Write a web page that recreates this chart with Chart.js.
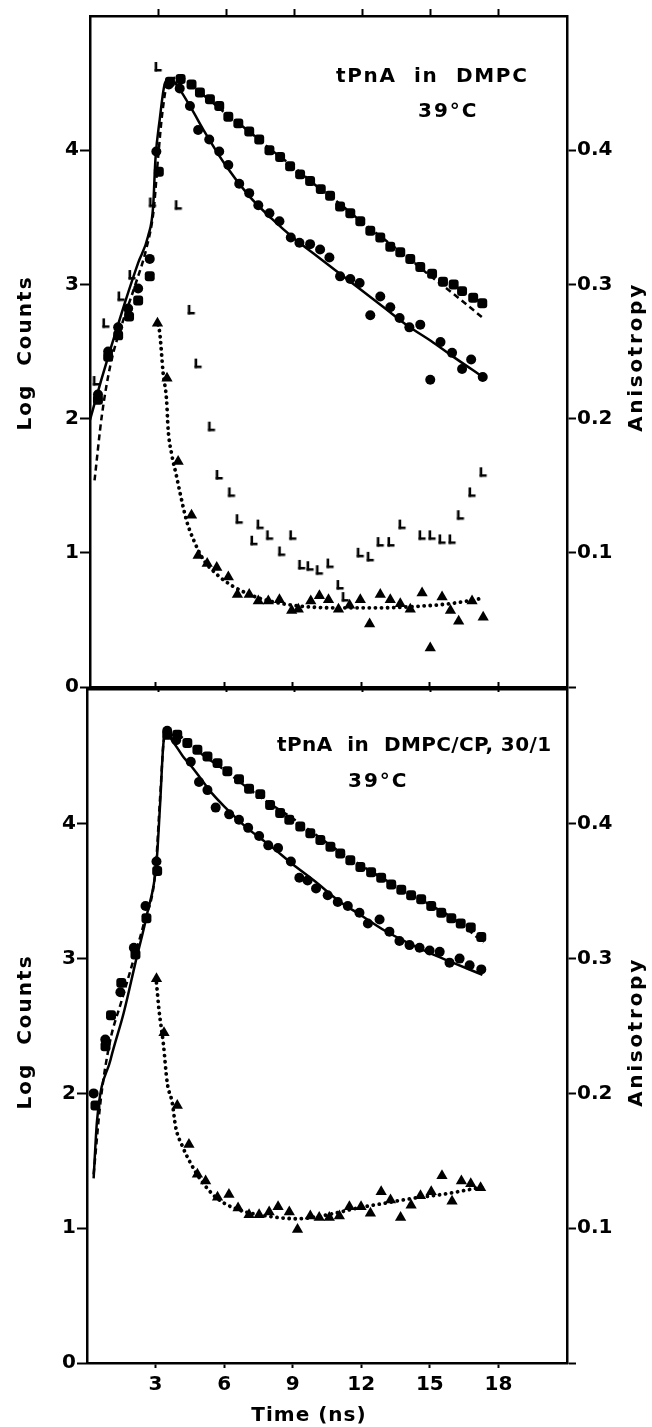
<!DOCTYPE html>
<html>
<head>
<meta charset="utf-8">
<script src="https://cdn.jsdelivr.net/npm/chart.js@4.4.1/dist/chart.umd.min.js"></script>
<style>
    body { margin: 0; background: #ffffff; }
    #wrap { position: relative; width: 652px; height: 1427px; overflow: hidden; }
    canvas { position: absolute; left: 0; }
    #top_chart { top: 0; }
    #bottom_chart { top: 670px; }
</style>
</head>
<body>
<div id="wrap">
    <canvas id="top_chart" width="652" height="707"></canvas>
    <canvas id="bottom_chart" width="652" height="757"></canvas>
</div>
<script>

// ----------------- TICKS ------------------------------------

let time_ticks = [3, 6, 9, 12, 15, 18];
let log_ticks = [0, 1, 2, 3, 4];
let aniso_ticks = [0, 0.1, 0.2, 0.3, 0.4];


// ----------------- TOP PANEL: tPnA in DMPC, 39°C ------------------------------------

let top_square_x = [0.35, 0.80, 1.24, 1.72, 2.12, 2.63, 3.03, 3.52, 3.99, 4.47, 4.84, 5.28, 5.69, 6.09, 6.53, 7.01, 7.45, 7.90, 8.37, 8.81, 9.25, 9.69, 10.16, 10.57, 11.01, 11.46, 11.90, 12.34, 12.78, 13.22, 13.66, 14.10, 14.54, 15.06, 15.54, 16.01, 16.38, 16.87, 17.27];
let top_square_y = [2.14, 2.46, 2.62, 2.76, 2.88, 3.06, 3.84, 4.51, 4.53, 4.49, 4.43, 4.38, 4.33, 4.25, 4.20, 4.14, 4.08, 4.00, 3.95, 3.88, 3.82, 3.77, 3.71, 3.66, 3.58, 3.53, 3.47, 3.40, 3.35, 3.28, 3.24, 3.19, 3.13, 3.08, 3.02, 3.00, 2.95, 2.90, 2.86];

let top_circle_x = [0.35, 0.80, 1.24, 1.68, 2.12, 2.63, 2.92, 3.47, 3.95, 4.40, 4.76, 5.25, 5.69, 6.09, 6.57, 7.01, 7.41, 7.90, 8.34, 8.84, 9.22, 9.69, 10.13, 10.54, 11.01, 11.46, 11.87, 12.34, 12.78, 13.22, 13.63, 14.06, 14.54, 14.98, 15.43, 15.94, 16.38, 16.78, 17.29];
let top_circle_y = [2.18, 2.50, 2.68, 2.82, 2.97, 3.19, 3.99, 4.49, 4.46, 4.33, 4.15, 4.08, 3.99, 3.89, 3.75, 3.68, 3.59, 3.53, 3.47, 3.35, 3.31, 3.30, 3.26, 3.20, 3.06, 3.04, 3.01, 2.77, 2.91, 2.83, 2.75, 2.68, 2.70, 2.29, 2.57, 2.49, 2.37, 2.44, 2.31];

let top_lamp_x = [0.28, 0.70, 1.37, 1.85, 2.75, 3.00, 3.89, 4.46, 4.76, 5.35, 5.69, 6.23, 6.57, 7.22, 7.49, 7.91, 8.44, 8.93, 9.32, 9.69, 10.10, 10.57, 11.01, 11.24, 11.90, 12.34, 12.78, 13.25, 13.74, 14.62, 15.06, 15.50, 15.94, 16.31, 16.82, 17.31];
let top_lamp_y = [2.28, 2.71, 2.91, 3.07, 3.61, 4.62, 3.59, 2.81, 2.41, 1.94, 1.58, 1.45, 1.25, 1.09, 1.21, 1.13, 1.01, 1.13, 0.91, 0.90, 0.87, 0.92, 0.76, 0.67, 1.00, 0.97, 1.08, 1.08, 1.21, 1.13, 1.13, 1.10, 1.10, 1.28, 1.45, 1.60];

let top_aniso_x = [2.97, 3.39, 3.88, 4.47, 4.76, 5.16, 5.58, 6.09, 6.49, 7.01, 7.41, 7.85, 8.34, 8.88, 9.17, 9.72, 10.10, 10.50, 10.94, 11.43, 11.90, 12.31, 12.78, 13.22, 13.66, 14.10, 14.62, 14.98, 15.50, 15.87, 16.23, 16.82, 17.31];
let top_aniso_y = [0.271, 0.230, 0.168, 0.128, 0.098, 0.092, 0.089, 0.082, 0.069, 0.069, 0.064, 0.064, 0.065, 0.057, 0.058, 0.064, 0.068, 0.065, 0.058, 0.061, 0.065, 0.047, 0.069, 0.065, 0.062, 0.058, 0.070, 0.029, 0.067, 0.057, 0.049, 0.064, 0.052];

// fitted curves
let top_fit_solid_x = [0.00, 0.50, 0.94, 1.53, 2.12, 2.56, 2.78, 2.88, 3.07, 3.30, 3.50, 3.70, 4.00, 4.50, 5.00, 6.00, 7.00, 8.00, 9.00, 10.00, 11.00, 12.00, 13.00, 14.00, 15.00, 16.00, 17.30];
let top_fit_solid_y = [1.99, 2.29, 2.54, 2.86, 3.16, 3.36, 3.58, 3.93, 4.23, 4.50, 4.53, 4.51, 4.44, 4.30, 4.15, 3.88, 3.66, 3.49, 3.34, 3.21, 3.08, 2.95, 2.82, 2.69, 2.58, 2.46, 2.31];

let top_fit_dashed_x = [0.20, 0.52, 0.90, 1.40, 2.00, 2.50, 2.80, 3.00, 3.20, 3.45, 3.90, 5.00, 6.00, 7.00, 8.00, 9.00, 10.00, 11.00, 12.00, 13.00, 14.00, 15.00, 16.00, 17.30];
let top_fit_dashed_y = [1.54, 2.02, 2.40, 2.70, 3.00, 3.28, 3.55, 3.95, 4.30, 4.52, 4.54, 4.41, 4.27, 4.14, 4.00, 3.87, 3.73, 3.60, 3.46, 3.33, 3.20, 3.06, 2.93, 2.75];

let top_fit_aniso_x = [3.00, 3.07, 3.22, 3.37, 3.44, 3.59, 3.81, 3.96, 4.25, 4.55, 4.99, 5.58, 6.30, 7.49, 8.90, 10.80, 12.86, 14.30, 15.80, 17.25];
let top_fit_aniso_y = [0.270, 0.264, 0.234, 0.214, 0.192, 0.174, 0.157, 0.145, 0.124, 0.110, 0.095, 0.084, 0.075, 0.066, 0.061, 0.059, 0.059, 0.060, 0.062, 0.066];


// ----------------- BOTTOM PANEL: tPnA in DMPC/CP 30/1, 39°C ------------------------------------

let bottom_square_x = [0.37, 0.81, 1.05, 1.50, 2.12, 2.60, 3.07, 3.51, 3.95, 4.39, 4.83, 5.27, 5.71, 6.14, 6.65, 7.09, 7.58, 8.01, 8.45, 8.85, 9.33, 9.77, 10.21, 10.65, 11.08, 11.52, 11.96, 12.43, 12.87, 13.31, 13.75, 14.18, 14.62, 15.06, 15.50, 15.94, 16.35, 16.79, 17.25];
let bottom_square_y = [1.91, 2.35, 2.58, 2.82, 3.03, 3.30, 3.65, 4.66, 4.66, 4.60, 4.55, 4.50, 4.45, 4.39, 4.33, 4.26, 4.22, 4.14, 4.08, 4.03, 3.98, 3.93, 3.88, 3.83, 3.78, 3.73, 3.68, 3.64, 3.60, 3.55, 3.51, 3.47, 3.44, 3.39, 3.34, 3.30, 3.26, 3.23, 3.16];

let bottom_circle_x = [0.29, 0.80, 1.46, 2.05, 2.56, 3.04, 3.51, 3.90, 4.54, 4.90, 5.27, 5.63, 6.22, 6.65, 7.05, 7.53, 7.93, 8.36, 8.92, 9.29, 9.65, 10.02, 10.53, 10.97, 11.41, 11.92, 12.29, 12.80, 13.23, 13.67, 14.11, 14.55, 14.99, 15.43, 15.86, 16.30, 16.74, 17.25];
let bottom_circle_y = [2.00, 2.40, 2.75, 3.08, 3.39, 3.72, 4.69, 4.62, 4.46, 4.31, 4.25, 4.12, 4.07, 4.03, 3.97, 3.91, 3.84, 3.82, 3.72, 3.60, 3.58, 3.52, 3.47, 3.42, 3.39, 3.34, 3.26, 3.29, 3.20, 3.13, 3.10, 3.08, 3.06, 3.05, 2.97, 3.00, 2.95, 2.92];

let bottom_aniso_x = [3.04, 3.37, 3.95, 4.46, 4.83, 5.19, 5.71, 6.21, 6.61, 7.09, 7.53, 7.97, 8.36, 8.85, 9.21, 9.77, 10.16, 10.60, 11.04, 11.48, 11.99, 12.40, 12.87, 13.28, 13.72, 14.18, 14.59, 15.06, 15.53, 15.97, 16.38, 16.79, 17.22];
let bottom_aniso_y = [0.285, 0.245, 0.191, 0.162, 0.140, 0.135, 0.123, 0.125, 0.115, 0.110, 0.110, 0.112, 0.116, 0.112, 0.099, 0.109, 0.108, 0.108, 0.109, 0.116, 0.116, 0.111, 0.127, 0.121, 0.108, 0.117, 0.124, 0.127, 0.139, 0.120, 0.135, 0.133, 0.130];

// fitted curves
let bottom_fit_solid_x = [0.29, 0.44, 1.03, 1.61, 2.12, 2.64, 3.04, 3.20, 3.36, 3.50, 3.80, 4.20, 4.60, 5.00, 5.50, 6.00, 7.00, 8.00, 9.00, 10.00, 11.00, 12.00, 13.00, 14.00, 15.00, 16.00, 17.30];
let bottom_fit_solid_y = [1.37, 1.80, 2.25, 2.60, 2.97, 3.34, 3.71, 4.15, 4.62, 4.66, 4.60, 4.50, 4.42, 4.33, 4.22, 4.13, 3.97, 3.84, 3.70, 3.57, 3.43, 3.32, 3.21, 3.12, 3.04, 2.97, 2.88];

let bottom_fit_dashed_x = [0.29, 0.60, 1.00, 1.50, 2.00, 2.50, 3.00, 3.20, 3.40, 3.90, 4.50, 5.00, 6.00, 7.00, 8.00, 9.00, 10.00, 11.00, 12.00, 13.00, 14.00, 15.00, 16.00, 17.35];
let bottom_fit_dashed_y = [1.40, 1.95, 2.38, 2.68, 2.97, 3.27, 3.66, 4.20, 4.66, 4.66, 4.59, 4.52, 4.40, 4.27, 4.15, 4.04, 3.92, 3.80, 3.69, 3.59, 3.49, 3.40, 3.30, 3.12];

let bottom_fit_aniso_x = [3.04, 3.15, 3.34, 3.51, 3.73, 3.88, 4.17, 4.54, 4.97, 5.63, 6.58, 7.90, 9.21, 10.53, 11.85, 13.01, 14.18, 15.50, 16.52, 17.40];
let bottom_fit_aniso_y = [0.282, 0.262, 0.237, 0.208, 0.193, 0.175, 0.161, 0.148, 0.136, 0.123, 0.114, 0.109, 0.107, 0.110, 0.115, 0.1185, 0.122, 0.125, 0.128, 0.131];



// ----------------- HELPERS ------------------------------------

Chart.defaults.font.family = '"DejaVu Sans", sans-serif';
Chart.defaults.font.size = 20;
Chart.defaults.font.weight = 'bold';
Chart.defaults.color = '#000';

function pts(xs, ys) {
    return xs.map((x, i) => ({ x: x, y: ys[i] }));
}

// the "L" marker used for the lamp profile
let l_marker = document.createElement('canvas');
l_marker.width = 10;
l_marker.height = 12;
let lc = l_marker.getContext('2d');
lc.fillStyle = '#000';
lc.fillRect(1.5, 1, 2.6, 9.5);
lc.fillRect(1.5, 8, 7, 2.5);

function marker_set(data, style, radius, axis) {
    return {
        data: data,
        yAxisID: axis,
        pointStyle: style,
        pointRadius: radius,
        pointBackgroundColor: '#000',
        pointBorderColor: '#000',
        pointBorderWidth: 0,
        showLine: false
    };
}

function curve_set(data, dash, width, axis) {
    return {
        data: data,
        yAxisID: axis,
        showLine: true,
        pointRadius: 0,
        borderColor: '#000',
        borderWidth: width,
        borderDash: dash,
        borderCapStyle: dash.length && dash[0] < 1 ? 'round' : 'butt',
        cubicInterpolationMode: 'monotone',
        fill: false
    };
}

function build_scales(left_w, top_h, bottom_h, x_labels, bottom_tick) {
    let frame = { display: true, color: '#000', width: 2.5 };
    return {
        x: {
            type: 'linear', position: 'bottom', min: 0, max: 21,
            afterBuildTicks: a => { a.ticks = time_ticks.map(v => ({ value: v })); },
            afterFit: a => { a.height = bottom_h; },
            border: frame,
            grid: { drawOnChartArea: false, tickLength: bottom_tick, tickWidth: 2, tickColor: '#000' },
            ticks: { display: x_labels, padding: 5, maxRotation: 0 }
        },
        x2: {
            type: 'linear', position: 'top', min: 0, max: 21,
            afterBuildTicks: a => { a.ticks = time_ticks.map(v => ({ value: v })); },
            afterFit: a => { a.height = top_h; },
            border: frame,
            grid: { drawOnChartArea: false, tickLength: 7, tickWidth: 2, tickColor: '#000' },
            ticks: { display: false }
        },
        y: {
            type: 'linear', position: 'left', min: 0, max: 5,
            afterBuildTicks: a => { a.ticks = log_ticks.map(v => ({ value: v })); },
            afterFit: a => { a.width = left_w; },
            border: frame,
            grid: { drawOnChartArea: false, tickLength: 10, tickWidth: 2, tickColor: '#000' },
            ticks: { padding: 1, callback: v => String(v) }
        },
        y2: {
            type: 'linear', position: 'right', min: 0, max: 0.5,
            afterBuildTicks: a => { a.ticks = aniso_ticks.map(v => ({ value: v })); },
            afterFit: a => { a.width = 85; },
            border: frame,
            grid: { drawOnChartArea: false, tickLength: 9, tickWidth: 2, tickColor: '#000' },
            ticks: { padding: 1, callback: v => (v === 0 ? '' : v.toFixed(1)) }
        }
    };
}

function text_plugin(items) {
    return {
        id: 'panel_text',
        afterDraw(chart) {
            let ctx = chart.ctx;
            ctx.save();
            ctx.fillStyle = '#000';
            ctx.font = 'bold 20px "DejaVu Sans"';
            for (let it of items) {
                ctx.save();
                ctx.translate(it.x, it.y);
                if (it.rotate) ctx.rotate(-Math.PI / 2);
                ctx.letterSpacing = it.spacing + 'px';
                ctx.textAlign = it.align;
                ctx.textBaseline = 'alphabetic';
                ctx.fillText(it.text, 0, 0);
                ctx.restore();
            }
            ctx.restore();
        }
    };
}

function base_options(scales) {
    return {
        responsive: false,
        maintainAspectRatio: false,
        animation: false,
        devicePixelRatio: 1,
        events: [],
        layout: { padding: 0, autoPadding: false },
        plugins: { legend: { display: false }, tooltip: { enabled: false } },
        scales: scales
    };
}


// ----------------- TOP CHART ------------------------------------

var top_chart = new Chart(document.getElementById('top_chart').getContext('2d'), {
    type: 'scatter',
    data: {
        datasets: [
            marker_set(pts(top_circle_x, top_circle_y), 'circle', 5, 'y'),
            marker_set(pts(top_square_x, top_square_y), 'rectRounded', 5.8, 'y'),
            marker_set(pts(top_aniso_x, top_aniso_y), 'triangle', 6.5, 'y2'),
            marker_set(pts(top_lamp_x, top_lamp_y), l_marker, 5, 'y'),
            curve_set(pts(top_fit_solid_x, top_fit_solid_y), [], 2.5, 'y'),
            curve_set(pts(top_fit_dashed_x, top_fit_dashed_y), [6, 4], 2.5, 'y'),
            curve_set(pts(top_fit_aniso_x, top_fit_aniso_y), [0.1, 6], 3.8, 'y2')
        ]
    },
    options: base_options(build_scales(90, 16, 20, false, 5)),
    plugins: [text_plugin([
        { text: 'tPnA  in  DMPC', x: 336, y: 82, spacing: 1.7, align: 'left' },
        { text: '39°C', x: 418, y: 117, spacing: 2, align: 'left' },
        { text: 'Log  Counts', x: 31, y: 353, spacing: 2, align: 'center', rotate: true },
        { text: 'Anisotropy', x: 642, y: 357, spacing: 2.7, align: 'center', rotate: true }
    ])]
});


// ----------------- BOTTOM CHART ------------------------------------

var bottom_chart = new Chart(document.getElementById('bottom_chart').getContext('2d'), {
    type: 'scatter',
    data: {
        datasets: [
            marker_set(pts(bottom_circle_x, bottom_circle_y), 'circle', 5, 'y'),
            marker_set(pts(bottom_square_x, bottom_square_y), 'rectRounded', 5.8, 'y'),
            marker_set(pts(bottom_aniso_x, bottom_aniso_y), 'triangle', 6.5, 'y2'),
            curve_set(pts(bottom_fit_solid_x, bottom_fit_solid_y), [], 2.5, 'y'),
            curve_set(pts(bottom_fit_dashed_x, bottom_fit_dashed_y), [6, 4], 2.5, 'y'),
            curve_set(pts(bottom_fit_aniso_x, bottom_fit_aniso_y), [0.1, 6], 3.8, 'y2')
        ]
    },
    options: base_options(build_scales(87, 19, 64, true, 5)),
    plugins: [text_plugin([
        { text: 'tPnA  in  DMPC/CP, 30/1', x: 277, y: 81, spacing: 0.4, align: 'left' },
        { text: '39°C', x: 348, y: 117, spacing: 2, align: 'left' },
        { text: 'Log  Counts', x: 31, y: 362, spacing: 2, align: 'center', rotate: true },
        { text: 'Anisotropy', x: 642, y: 362, spacing: 2.7, align: 'center', rotate: true },
        { text: 'Time (ns)', x: 309, y: 751, spacing: 1, align: 'center' }
    ])]
});
</script>
</body>
</html>
